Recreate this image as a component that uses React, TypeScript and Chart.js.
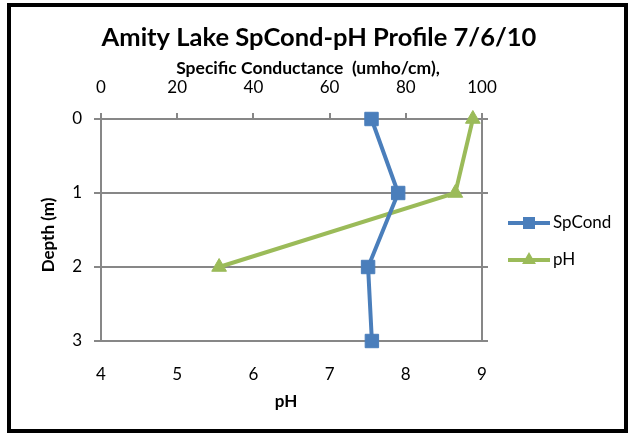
import { useEffect, useRef } from 'react';
import { Chart, registerables } from 'chart.js';

Chart.register(...registerables);

// ---- Data ----
const depthTicks = [0, 1, 2, 3];
const spCondTicks = [0, 20, 40, 60, 80, 100];
const phTicks = [4, 5, 6, 7, 8, 9];

const spCondDepths = [0, 1, 2, 3];
const spCondValues = [71.0, 78.0, 70.1, 71.1];

const phDepths = [0, 1, 2];
const phValues = [8.88, 8.65, 5.55];

const seriesNames = ['SpCond', 'pH'];

const chartTitle = 'Amity Lake SpCond-pH Profile 7/6/10';
const topAxisTitle = 'Specific Conductance  (umho/cm),';
const bottomAxisTitle = 'pH';
const leftAxisTitle = 'Depth (m)';

// ---- Styles ----
const FONT = 'Lato, "Open Sans", sans-serif';
const GRID = '#878787';
const BLUE = '#4A7EBB';
const GREEN = '#9BBB59';
const TICK_SIZE = 17;

const decorPlugin = {
  id: 'decor',
  beforeDraw(chart: any) {
    const ctx = chart.ctx;
    ctx.save();
    ctx.fillStyle = '#ffffff';
    ctx.fillRect(0, 0, chart.width, chart.height);
    ctx.restore();
  },
  afterDraw(chart: any) {
    const ctx = chart.ctx;
    ctx.save();
    // outer border
    ctx.strokeStyle = '#000000';
    ctx.lineWidth = 4;
    ctx.strokeRect(9, 5, 617, 426);

    ctx.fillStyle = '#000000';
    ctx.textAlign = 'center';
    ctx.textBaseline = 'middle';
    ctx.font = `bold 25.5px ${FONT}`;
    ctx.fillText(chartTitle, 319, 38);

    ctx.font = `bold 17.5px ${FONT}`;
    ctx.fillText(topAxisTitle, 308, 68);

    ctx.font = `bold 17px ${FONT}`;
    ctx.fillText(bottomAxisTitle, 286, 402);

    ctx.save();
    ctx.translate(49, 235);
    ctx.rotate(-Math.PI / 2);
    ctx.fillText(leftAxisTitle, 0, 0);
    ctx.restore();

    // legend
    const legendYs = [223, 260];
    chart.data.datasets.forEach((ds: any, i: number) => {
      const y = legendYs[i];
      ctx.strokeStyle = ds.borderColor;
      ctx.lineWidth = ds.borderWidth;
      ctx.beginPath();
      ctx.moveTo(508, y);
      ctx.lineTo(550, y);
      ctx.stroke();
      ctx.fillStyle = ds.pointBackgroundColor;
      ctx.beginPath();
      if (ds.pointStyle === 'rect') {
        ctx.rect(529 - 6, y - 6, 12, 12);
      } else {
        const r = 8;
        ctx.moveTo(529, y - r);
        ctx.lineTo(529 + r * 0.866, y + r * 0.5);
        ctx.lineTo(529 - r * 0.866, y + r * 0.5);
        ctx.closePath();
      }
      ctx.fill();
      ctx.fillStyle = '#000000';
      ctx.textAlign = 'left';
      ctx.font = `17px ${FONT}`;
      ctx.fillText(ds.label, 553, y);
    });
    ctx.restore();
  },
};

const setTicks = (values: number[]) => (scale: any) => {
  scale.ticks = values.map((v) => ({ value: v }));
};

export default function App() {
  const canvasRef = useRef<HTMLCanvasElement | null>(null);

  useEffect(() => {
    const canvas = canvasRef.current;
    if (!canvas) return;
    const chart = new Chart(canvas, {
      type: 'scatter',
      data: {
        datasets: [
          {
            label: seriesNames[0],
            data: spCondDepths.map((d, i) => ({ x: spCondValues[i], y: d })),
            xAxisID: 'x2',
            yAxisID: 'y',
            showLine: true,
            clip: false,
            borderColor: BLUE,
            backgroundColor: BLUE,
            borderWidth: 4,
            pointStyle: 'rect',
            pointRadius: 9.5,
            pointBackgroundColor: BLUE,
            pointBorderColor: BLUE,
            pointBorderWidth: 1,
          },
          {
            label: seriesNames[1],
            data: phDepths.map((d, i) => ({ x: phValues[i], y: d })),
            xAxisID: 'x',
            yAxisID: 'y',
            showLine: true,
            clip: false,
            borderColor: GREEN,
            backgroundColor: GREEN,
            borderWidth: 4,
            pointStyle: 'triangle',
            pointRadius: 8.5,
            pointBackgroundColor: GREEN,
            pointBorderColor: GREEN,
            pointBorderWidth: 1,
          },
        ],
      },
      options: {
        responsive: false,
        animation: false,
        devicePixelRatio: 1,
        layout: { padding: { left: 0, right: 140, top: 0, bottom: 0 } },
        plugins: {
          legend: { display: false },
          title: { display: false },
          tooltip: { enabled: false },
        },
        scales: {
          x: {
            type: 'linear',
            position: 'bottom',
            min: phTicks[0],
            max: phTicks[phTicks.length - 1],
            afterBuildTicks: setTicks(phTicks),
            afterFit: (s: any) => { s.height = 92; },
            grid: { drawOnChartArea: false, drawTicks: false, color: GRID, lineWidth: 2 },
            border: { display: true, color: GRID, width: 2 },
            ticks: { padding: 23.8, color: '#000', font: { family: FONT, size: TICK_SIZE } },
          },
          x2: {
            type: 'linear',
            position: 'top',
            min: spCondTicks[0],
            max: spCondTicks[spCondTicks.length - 1],
            afterBuildTicks: setTicks(spCondTicks),
            afterFit: (s: any) => { s.height = 119; },
            grid: { drawOnChartArea: false, drawTicks: true, tickLength: 6, color: GRID, lineWidth: 2 },
            border: { display: true, color: GRID, width: 2 },
            ticks: { padding: 14.8, color: '#000', font: { family: FONT, size: TICK_SIZE } },
          },
          y: {
            type: 'linear',
            position: 'left',
            reverse: true,
            min: depthTicks[0],
            max: depthTicks[depthTicks.length - 1],
            afterBuildTicks: setTicks(depthTicks),
            afterFit: (s: any) => { s.width = 101; },
            grid: { color: GRID, lineWidth: 2, drawTicks: true, tickLength: 7 },
            border: { display: true, color: GRID, width: 2 },
            ticks: { padding: 12, color: '#000', font: { family: FONT, size: TICK_SIZE } },
          },
          y2: {
            type: 'linear',
            position: 'right',
            reverse: true,
            min: depthTicks[0],
            max: depthTicks[depthTicks.length - 1],
            afterBuildTicks: setTicks(depthTicks),
            afterFit: (s: any) => { s.width = 6; },
            grid: { drawOnChartArea: false, drawTicks: true, tickLength: 6, color: GRID, lineWidth: 2 },
            border: { display: true, color: GRID, width: 2 },
            ticks: { display: false },
          },
        },
      },
      plugins: [decorPlugin],
    } as any);
    return () => chart.destroy();
  }, []);

  return (
    <div style={{ position: 'absolute', left: 0, top: 0, width: 628, height: 433, background: '#fff' }}>
      <canvas ref={canvasRef} width={628} height={433} style={{ display: 'block', width: 628, height: 433 }} />
    </div>
  );
}
